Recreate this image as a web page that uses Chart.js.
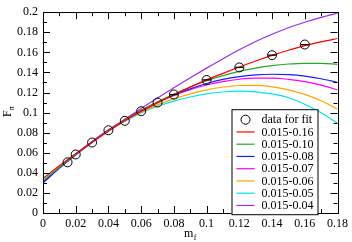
<!DOCTYPE html>
<html>
<head>
<meta charset="UTF-8">
<title>F_pi fits</title>
<style>
  html, body { margin: 0; padding: 0; background: #fff; }
  #wrap { width: 352px; height: 242px; }
</style>
</head>
<body>
<div id="wrap"><canvas id="chart"></canvas></div>
<script src="https://cdn.jsdelivr.net/npm/chart.js"></script>
<script>
// measured points
const dataM = [0.015, 0.02, 0.03, 0.04, 0.05, 0.06, 0.07, 0.08, 0.10, 0.12, 0.14, 0.16];
const dataF = [0.0505, 0.0583, 0.0702, 0.0824, 0.0918, 0.1014, 0.110, 0.118, 0.1325, 0.1450, 0.1572, 0.1678];

// fit curves, sampled every 0.01
const fitM = [0, 0.01, 0.02, 0.03, 0.04, 0.05, 0.06, 0.07, 0.08, 0.09, 0.10, 0.11, 0.12, 0.13, 0.14, 0.15, 0.16, 0.17, 0.18];
const fit016 = [0.0345, 0.0470, 0.0590, 0.0705, 0.0815, 0.0920, 0.1012, 0.1097, 0.1178, 0.1254, 0.1326, 0.1391, 0.1454, 0.1514, 0.1570, 0.1621, 0.1667, 0.1705, 0.1738];
const fit010 = [0.0320, 0.0455, 0.0585, 0.0708, 0.0822, 0.0926, 0.1021, 0.1107, 0.1185, 0.1255, 0.1317, 0.1368, 0.1410, 0.1443, 0.1468, 0.1484, 0.1491, 0.1490, 0.1481];
const fit008 = [0.0302, 0.0447, 0.0583, 0.0708, 0.0823, 0.0927, 0.1020, 0.1103, 0.1176, 0.1238, 0.1290, 0.1331, 0.1359, 0.1376, 0.1382, 0.1378, 0.1363, 0.1337, 0.1301];
const fit007 = [0.0300, 0.0449, 0.0587, 0.0713, 0.0828, 0.0931, 0.1023, 0.1103, 0.1172, 0.1229, 0.1275, 0.1309, 0.1332, 0.1343, 0.1343, 0.1331, 0.1308, 0.1273, 0.1227];
const fit006 = [0.0305, 0.0450, 0.0585, 0.0710, 0.0822, 0.0920, 0.1005, 0.1077, 0.1137, 0.1187, 0.1227, 0.1255, 0.1270, 0.1271, 0.1257, 0.1227, 0.1182, 0.1118, 0.1035];
const fit005 = [0.0300, 0.0448, 0.0583, 0.0706, 0.0816, 0.0913, 0.0997, 0.1063, 0.1115, 0.1155, 0.1186, 0.1205, 0.1213, 0.1207, 0.1186, 0.1148, 0.1083, 0.0998, 0.0895];
const fit004 = [0.0310, 0.0447, 0.0578, 0.0703, 0.0822, 0.0933, 0.1042, 0.1146, 0.1247, 0.1346, 0.1443, 0.1537, 0.1626, 0.1708, 0.1780, 0.1845, 0.1900, 0.1948, 0.1990];

const fitLabels = ['0.015-0.16', '0.015-0.10', '0.015-0.08', '0.015-0.07', '0.015-0.06', '0.015-0.05', '0.015-0.04'];
const fits = [fit016, fit010, fit008, fit007, fit006, fit005, fit004];
const colors = ['#ff0000', '#2aa52a', '#1a1aff', '#ff00ff', '#ffa500', '#00e5ee', '#9b30e6'];

const SERIF = "'Liberation Serif', 'DejaVu Serif', serif";

const datasets = [];
datasets.push({
  label: 'data for fit',
  data: dataM.map((m, i) => ({x: m, y: dataF[i]})),
  showLine: false, pointStyle: 'circle', pointRadius: 4.5,
  borderColor: '#000', backgroundColor: 'rgba(0,0,0,0)', borderWidth: 1
});
// small error bar caps seen on the larger masses
datasets.push({
  label: 'caps',
  data: dataM.map((m, i) => ({x: m, y: dataF[i]})).filter(p => p.x >= 0.08),
  showLine: false, pointStyle: 'line', pointRadius: 4,
  borderColor: '#000', borderWidth: 1.3
});
fits.forEach((f, k) => {
  datasets.push({
    label: fitLabels[k],
    data: fitM.map((m, i) => ({x: m, y: f[i]})),
    showLine: true, pointRadius: 0, borderColor: colors[k], borderWidth: 1.2,
    cubicInterpolationMode: 'monotone', fill: false
  });
});

const decor = {
  id: 'decor',
  afterDatasetsDraw(chart) {
    const ctx = chart.ctx, a = chart.chartArea;
    const xs = chart.scales.x, ys = chart.scales.y;
    ctx.save();
    ctx.strokeStyle = '#000';
    ctx.lineWidth = 1;
    // ticks on all sides, pointing in
    ctx.beginPath();
    for (let i = 0; i <= 18; i++) {
      const px = Math.round(xs.getPixelForValue(i / 100)) + 0.5;
      const len = i % 2 ? 4 : 7;
      ctx.moveTo(px, a.bottom); ctx.lineTo(px, a.bottom - len);
      ctx.moveTo(px, a.top); ctx.lineTo(px, a.top + len);
    }
    for (let i = 0; i <= 20; i++) {
      const py = Math.round(ys.getPixelForValue(i / 100)) + 0.5;
      const len = i % 2 ? 4 : 7;
      ctx.moveTo(a.left, py); ctx.lineTo(a.left + len, py);
      ctx.moveTo(a.right, py); ctx.lineTo(a.right - len, py);
    }
    ctx.stroke();
    ctx.strokeRect(Math.round(a.left) + 0.5, Math.round(a.top) + 0.5,
      Math.round(a.right - a.left), Math.round(a.bottom - a.top));

    // legend box
    const lx = a.right - 106, ly = a.top + 97, lw = 86, lh = 105;
    ctx.fillStyle = '#fff';
    ctx.fillRect(lx, ly, lw, lh);
    ctx.strokeRect(lx + 0.5, ly + 0.5, lw, lh);
    ctx.font = '12px ' + SERIF;
    ctx.textBaseline = 'middle';
    ctx.textAlign = 'left';
    const rows = [{label: 'data for fit', color: null}].concat(fitLabels.map((l, k) => ({label: l, color: colors[k]})));
    rows.forEach((r, i) => {
      const ry = ly + 10.5 + i * 12.25;
      if (r.color) {
        ctx.strokeStyle = r.color; ctx.lineWidth = 1.2;
        ctx.beginPath(); ctx.moveTo(lx + 5, ry); ctx.lineTo(lx + 23, ry); ctx.stroke();
      } else {
        ctx.strokeStyle = '#000'; ctx.lineWidth = 1;
        ctx.beginPath(); ctx.arc(lx + 14, ry, 4.5, 0, Math.PI * 2); ctx.stroke();
      }
      ctx.fillStyle = '#000';
      ctx.fillText(r.label, lx + 30, ry + 0.5);
    });

    // axis titles with subscripts
    ctx.fillStyle = '#000';
    ctx.textBaseline = 'alphabetic';
    ctx.font = '12px ' + SERIF;
    const wm = ctx.measureText('m').width;
    ctx.font = '8px ' + SERIF;
    const wf = ctx.measureText('f').width;
    const cx = (a.left + a.right) / 2;
    let sx = cx - (wm + wf + 0.5) / 2;
    ctx.font = '12px ' + SERIF;
    ctx.fillText('m', sx, 237);
    ctx.font = '8px ' + SERIF;
    ctx.fillText('f', sx + wm + 0.5, 240);

    ctx.translate(11, (a.top + a.bottom) / 2 - 1);
    ctx.rotate(-Math.PI / 2);
    ctx.font = '12px ' + SERIF;
    const wF = ctx.measureText('F').width;
    ctx.font = '8px ' + SERIF;
    const wp = ctx.measureText('\u03c0').width;
    const s = -(wF + wp) / 2;
    ctx.font = '12px ' + SERIF;
    ctx.fillText('F', s, 0);
    ctx.font = '8px ' + SERIF;
    ctx.fillText('\u03c0', s + wF, 3);
    ctx.restore();
  }
};

const fmt = v => String(Number(v.toFixed(2)));

new Chart(document.getElementById('chart'), {
  type: 'scatter',
  data: { datasets: datasets },
  options: {
    responsive: true,
    maintainAspectRatio: false,
    animation: false,
    devicePixelRatio: 1,
    layout: { padding: { top: 6, right: 12, left: 0, bottom: 0 } },
    plugins: { legend: { display: false }, tooltip: { enabled: false } },
    scales: {
      x: {
        type: 'linear', min: 0, max: 0.18,
        grid: { display: false, drawTicks: false },
        border: { display: false },
        ticks: { stepSize: 0.02, padding: 4, color: '#000', maxRotation: 0, font: { family: SERIF, size: 12 }, callback: fmt },
        afterFit: s => { s.height = 29; }
      },
      y: {
        type: 'linear', min: 0, max: 0.2,
        grid: { display: false, drawTicks: false },
        border: { display: false },
        ticks: { stepSize: 0.02, padding: 5, color: '#000', font: { family: SERIF, size: 12 }, callback: fmt },
        afterFit: s => { s.width = 43; }
      }
    }
  },
  plugins: [decor]
});
</script>
</body>
</html>
